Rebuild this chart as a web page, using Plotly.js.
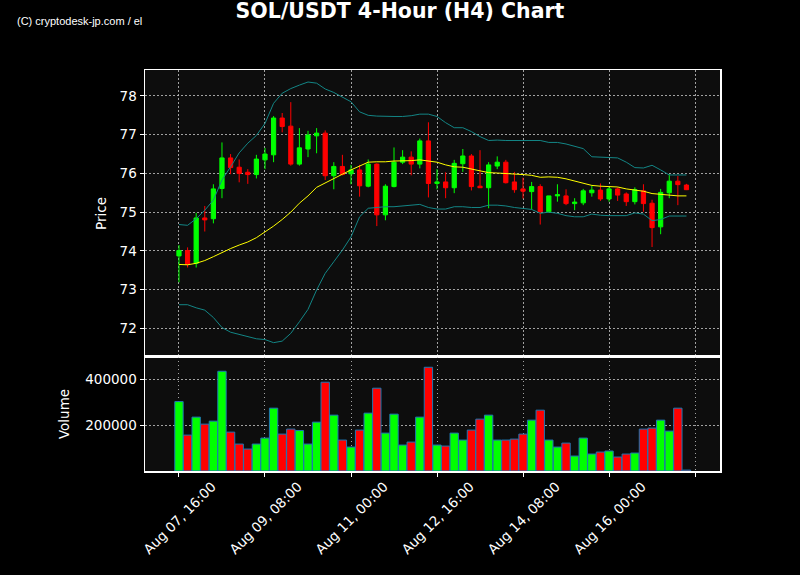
<!DOCTYPE html>
<html>
<head>
<meta charset="utf-8">
<script src="https://cdn.plot.ly/plotly-3.0.1.min.js"></script>
<style>html,body{margin:0;padding:0;background:#000;}#chart{width:800px;height:575px;}</style>
</head>
<body>
<div id="chart"></div>
<script>
const times = [
 "2024-08-07 16:00","2024-08-07 20:00","2024-08-08 00:00","2024-08-08 04:00","2024-08-08 08:00","2024-08-08 12:00",
 "2024-08-08 16:00","2024-08-08 20:00","2024-08-09 00:00","2024-08-09 04:00","2024-08-09 08:00","2024-08-09 12:00",
 "2024-08-09 16:00","2024-08-09 20:00","2024-08-10 00:00","2024-08-10 04:00","2024-08-10 08:00","2024-08-10 12:00",
 "2024-08-10 16:00","2024-08-10 20:00","2024-08-11 00:00","2024-08-11 04:00","2024-08-11 08:00","2024-08-11 12:00",
 "2024-08-11 16:00","2024-08-11 20:00","2024-08-12 00:00","2024-08-12 04:00","2024-08-12 08:00","2024-08-12 12:00",
 "2024-08-12 16:00","2024-08-12 20:00","2024-08-13 00:00","2024-08-13 04:00","2024-08-13 08:00","2024-08-13 12:00",
 "2024-08-13 16:00","2024-08-13 20:00","2024-08-14 00:00","2024-08-14 04:00","2024-08-14 08:00","2024-08-14 12:00",
 "2024-08-14 16:00","2024-08-14 20:00","2024-08-15 00:00","2024-08-15 04:00","2024-08-15 08:00","2024-08-15 12:00",
 "2024-08-15 16:00","2024-08-15 20:00","2024-08-16 00:00","2024-08-16 04:00","2024-08-16 08:00","2024-08-16 12:00",
 "2024-08-16 16:00","2024-08-16 20:00","2024-08-17 00:00","2024-08-17 04:00","2024-08-17 08:00","2024-08-17 12:00"
];
const opens = [73.87,74.01,73.68,74.85,74.83,75.61,76.40,76.16,76.03,75.97,76.35,76.48,77.43,77.22,76.24,76.63,76.97,77.04,75.94,76.18,
 75.99,76.09,75.67,76.24,74.93,75.66,76.29,76.42,76.24,76.84,75.74,75.78,75.63,76.25,76.45,75.67,75.63,76.19,76.29,75.78,
 75.60,75.53,75.66,75.01,75.42,75.42,75.22,75.24,75.50,75.57,75.34,75.60,75.47,75.27,75.55,75.23,74.62,75.50,75.80,75.70];
const highs = [74.15,74.09,74.98,75.16,75.72,76.80,76.50,76.36,76.11,76.48,76.66,77.48,77.56,77.84,77.17,77.10,77.17,77.11,76.29,76.48,
 76.22,76.22,76.36,76.26,75.72,76.67,76.60,76.57,76.90,77.32,76.11,76.03,76.35,76.63,76.50,76.60,76.29,76.44,76.35,76.04,
 75.89,75.78,75.72,75.42,75.72,75.59,75.36,75.60,75.69,75.74,75.65,75.64,75.51,75.64,75.72,75.32,75.60,75.98,75.93,75.73];
const lows = [73.19,73.57,73.57,74.50,74.71,75.36,75.98,75.77,75.73,75.87,76.11,76.29,77.06,76.20,76.20,76.42,76.52,75.83,75.59,75.95,
 75.72,75.40,75.64,74.64,74.79,75.64,76.24,75.95,76.13,75.38,75.59,75.36,75.49,76.04,75.56,75.63,75.10,76.11,75.74,75.50,
 75.35,75.07,74.68,74.98,75.27,75.18,75.05,75.18,75.40,75.29,75.27,75.29,75.16,75.20,75.01,74.10,74.43,75.36,75.18,75.57];
const closes = [74.01,73.65,74.85,74.80,75.60,76.40,76.15,76.00,75.97,76.37,76.50,77.43,77.21,76.24,76.66,76.99,77.04,75.94,76.18,75.97,
 76.09,75.68,76.24,74.93,75.67,76.29,76.42,76.24,76.84,75.74,75.78,75.63,76.26,76.45,75.66,75.63,76.22,76.29,75.76,75.58,
 75.54,75.66,75.01,75.42,75.45,75.22,75.26,75.55,75.57,75.34,75.60,75.44,75.27,75.58,75.22,74.60,75.51,75.80,75.71,75.58];
const volumes = [302600,156500,234800,204300,217400,434800,169600,117400,95700,117400,143500,273900,160900,182600,176500,117400,213000,387000,243500,134800,
 104300,178300,252200,360900,165200,247800,113000,126100,234800,452200,113000,108700,165200,134800,178300,226100,243500,134800,134800,139100,
 160900,221700,265200,134800,104300,121700,65200,143500,73900,82600,87000,60900,73900,78300,182600,187000,221700,173900,273900,4000];
const bbMiddle = [73.65,73.64,73.68,73.75,73.85,73.96,74.06,74.15,74.23,74.34,74.48,74.64,74.81,75.00,75.23,75.42,75.64,75.76,75.87,75.98,
 76.09,76.20,76.29,76.30,76.30,76.32,76.32,76.33,76.35,76.32,76.29,76.22,76.17,76.16,76.11,76.06,76.02,76.01,76.00,75.98,
 75.97,75.95,75.90,75.91,75.90,75.86,75.80,75.75,75.69,75.67,75.66,75.65,75.60,75.57,75.54,75.48,75.46,75.43,75.42,75.42];
const bbUpper = [74.68,74.66,74.83,75.05,75.31,75.83,76.17,76.53,76.78,76.98,77.29,77.81,78.07,78.19,78.28,78.36,78.33,78.18,78.09,77.98,
 77.85,77.59,77.50,77.48,77.47,77.47,77.47,77.49,77.53,77.53,77.47,77.31,77.18,77.18,77.08,76.95,76.85,76.86,76.85,76.85,
 76.85,76.85,76.85,76.80,76.80,76.76,76.70,76.64,76.43,76.42,76.42,76.40,76.29,76.15,76.14,76.21,76.09,75.96,75.96,75.96];
const bbLower = [72.61,72.61,72.53,72.47,72.28,72.02,71.90,71.84,71.78,71.73,71.71,71.63,71.67,71.87,72.17,72.49,72.99,73.42,73.72,74.02,
 74.36,74.88,75.10,75.12,75.14,75.14,75.16,75.18,75.20,75.12,75.08,75.08,75.14,75.14,75.12,75.12,75.18,75.18,75.16,75.12,
 75.09,75.07,74.97,75.00,74.97,74.91,74.88,74.88,74.95,74.92,74.91,74.91,74.91,74.98,74.95,74.78,74.81,74.90,74.90,74.90];
const tickDates = ["2024-08-07 16:00","2024-08-09 08:00","2024-08-11 00:00","2024-08-12 16:00","2024-08-14 08:00","2024-08-16 00:00","2024-08-17 16:00"];
const tickLabels = ["Aug 07, 16:00","Aug 09, 08:00","Aug 11, 00:00","Aug 12, 16:00","Aug 14, 08:00","Aug 16, 00:00",""];
const priceTicks = [72,73,74,75,76,77,78];
const volumeTicks = [200000,400000];

const UP = '#00ff00', DOWN = '#ff0000';
const volColors = closes.map((c,i)=> c >= opens[i] ? UP : DOWN);
const FONT = 'DejaVu Sans, sans-serif';
const gridColor = 'rgba(200,200,200,0.8)';
const gridDash = '1.5px,2.5px';

const traces = [
  {type:'scatter', mode:'lines', x:times, y:bbUpper, xaxis:'x', yaxis:'y', line:{color:'#138585', width:1}, hoverinfo:'skip'},
  {type:'scatter', mode:'lines', x:times, y:bbLower, xaxis:'x', yaxis:'y', line:{color:'#138585', width:1}, hoverinfo:'skip'},
  {type:'scatter', mode:'lines', x:times, y:bbMiddle, xaxis:'x', yaxis:'y', line:{color:'#ffff00', width:1}, hoverinfo:'skip'},
  {type:'candlestick', x:times, open:opens, high:highs, low:lows, close:closes, xaxis:'x', yaxis:'y',
   increasing:{line:{color:UP, width:1}, fillcolor:UP},
   decreasing:{line:{color:DOWN, width:1}, fillcolor:DOWN}, whiskerwidth:0},
  {type:'bar', x:times, y:volumes, xaxis:'x2', yaxis:'y2', width:4*3600*1000*0.97,
   marker:{color:volColors, line:{color:'#1f77b4', width:1}}}
];

const xRange = ['2024-08-07 00:12','2024-08-18 03:36'];
const layout = {
  width:800, height:575,
  paper_bgcolor:'#000000', plot_bgcolor:'#0d0d0d',
  showlegend:false,
  margin:{l:145, r:80, t:70, b:104},
  font:{family:FONT, color:'#ffffff', size:13.5},
  title:{text:'<b>SOL/USDT 4-Hour (H4) Chart</b>', x:0.5, xanchor:'center', y:0.981, yanchor:'middle',
         font:{family:FONT, size:20.5, color:'#ffffff'}},
  xaxis:{type:'date', range:xRange, anchor:'y', domain:[0,1], rangeslider:{visible:false},
         showticklabels:false, ticks:'', tickvals:tickDates,
         showgrid:true, gridcolor:gridColor, griddash:gridDash, gridwidth:1,
         showline:true, linecolor:'#ffffff', linewidth:1.5, mirror:true, zeroline:false},
  yaxis:{domain:[0.2843,1], range:[71.26,78.67], tickvals:priceTicks, ticks:'outside', ticklen:4, tickcolor:'#ffffff',
         showgrid:true, gridcolor:gridColor, griddash:gridDash, gridwidth:1, zeroline:false,
         showline:true, linecolor:'#ffffff', linewidth:1.5, mirror:true,
         title:{text:'Price', standoff:10, font:{family:FONT, size:13.5, color:'#ffffff'}}},
  xaxis2:{type:'date', range:xRange, anchor:'y2', matches:'x', domain:[0,1],
          tickvals:tickDates, ticktext:tickLabels, tickangle:-45, ticks:'outside', ticklen:4, tickcolor:'#ffffff',
          ticklabelshift:33, ticklabelstandoff:-3,
          showgrid:true, gridcolor:gridColor, griddash:gridDash, gridwidth:1,
          showline:true, linecolor:'#ffffff', linewidth:1.5, mirror:true, zeroline:false},
  yaxis2:{domain:[0,0.2843], range:[0,497000], tickvals:volumeTicks, ticks:'outside', ticklen:4, tickcolor:'#ffffff',
          tickformat:'d', showgrid:true, gridcolor:gridColor, griddash:gridDash, gridwidth:1, zeroline:false,
          showline:true, linecolor:'#ffffff', linewidth:1.5, mirror:true,
          title:{text:'Volume', standoff:12, font:{family:FONT, size:13.5, color:'#ffffff'}}},
  annotations:[{text:'(C) cryptodesk-jp.com / el', xref:'paper', yref:'paper', x:(15-145)/575, y:1.0+(70-21)/401,
    xanchor:'left', yanchor:'middle', showarrow:false,
    font:{family:'Liberation Sans, Arial, sans-serif', size:11, color:'#ffffff'}}]
};
Plotly.newPlot('chart', traces, layout, {displayModeBar:false, staticPlot:true});
</script>
</body>
</html>
